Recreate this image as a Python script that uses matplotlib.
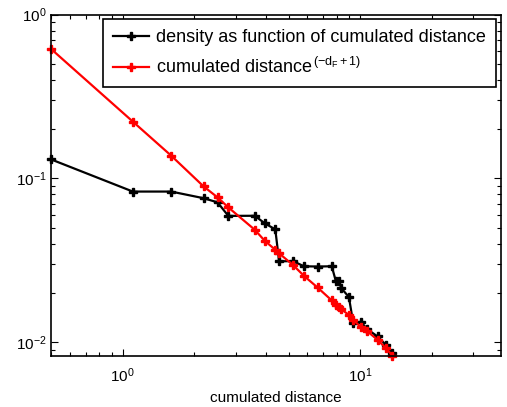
import numpy as np
import matplotlib.pyplot as plt

plt.rcParams['font.family'] = ['Liberation Sans', 'DejaVu Sans']
plt.rcParams['mathtext.fontset'] = 'custom'
plt.rcParams['mathtext.rm'] = 'Liberation Sans'
plt.rcParams['mathtext.it'] = 'Liberation Sans'
plt.rcParams['mathtext.bf'] = 'Liberation Sans:bold'

# cumulated distance (x positions shared by both series)
dist = [0.5, 1.105, 1.602, 2.193, 2.511, 2.788, 3.604, 3.972, 4.396, 4.562,
        5.21, 5.81, 6.62, 7.60, 7.90, 8.16, 8.33, 8.97, 9.36, 10.07,
        10.74, 11.84, 12.83, 13.69]

# density as function of cumulated distance
density = [0.1308, 0.0832, 0.0832, 0.0758, 0.0715, 0.0591, 0.0592, 0.0532,
           0.0489, 0.0312, 0.0313, 0.0291, 0.0290, 0.0291, 0.0237, 0.0236,
           0.0214, 0.0189, 0.01305, 0.01334, 0.0120, 0.01085, 0.00966, 0.00859]

# cumulated distance^(-dF+1)
power_law = [0.618, 0.2225, 0.1379, 0.0895, 0.0767, 0.0666, 0.0486, 0.0416,
             0.0367, 0.0349, 0.0297, 0.0254, 0.0216, 0.0180, 0.0169, 0.0164,
             0.0159, 0.0147, 0.0137, 0.01238, 0.01164, 0.01036, 0.00922, 0.00827]

fig = plt.figure(figsize=(5.07, 4.07), dpi=100)
ax = fig.add_axes([0.1006, 0.1265, 0.8866, 0.8374])

ax.loglog(dist, density, '-', color='black', lw=1.6, marker='P', ms=5.5,
          label='density as function of cumulated distance', clip_on=False)
ax.loglog(dist, power_law, '-', color='red', lw=1.6, marker='P', ms=5.5,
          label=r'cumulated distance$^{\,(-d_F+1)}$', clip_on=False)

ax.set_xlim(0.5, 39)
ax.set_ylim(0.0083, 1.0)
ax.set_xlabel('cumulated distance', fontsize=11, labelpad=4)

ax.tick_params(which='both', direction='in', top=True, right=True, labelsize=11)
ax.tick_params(axis='x', which='both', pad=8)
ax.tick_params(axis='y', which='both', pad=3)
ax.tick_params(which='major', length=5, width=0.8)
ax.tick_params(which='minor', length=3, width=0.8)
for s in ax.spines.values():
    s.set_linewidth(1.2)

leg = ax.legend(loc='upper right', fontsize=13, fancybox=False, framealpha=1,
                edgecolor='black', borderaxespad=0.25, handlelength=2.0,
                handletextpad=0.4, labelspacing=0.6, borderpad=0.55)
leg.get_frame().set_linewidth(1.2)

fig.savefig('out.png', dpi=100)
